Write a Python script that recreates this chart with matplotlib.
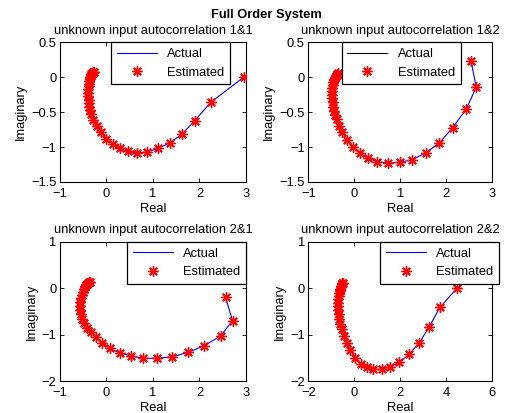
import matplotlib
matplotlib.use("Agg")
import matplotlib.pyplot as plt

plt.rcParams['font.family'] = ['Liberation Sans', 'DejaVu Sans']

# ---- data ----
titles = ["unknown input autocorrelation 1&1", "unknown input autocorrelation 1&2",
          "unknown input autocorrelation 2&1", "unknown input autocorrelation 2&2"]

re11 = [2.95, 2.24, 1.90, 1.63, 1.36, 1.11, 0.87, 0.65, 0.46, 0.28, 0.13, -0.005, -0.12, -0.21,
        -0.28, -0.33, -0.355, -0.37, -0.38, -0.385, -0.39, -0.39, -0.388, -0.385, -0.378, -0.37,
        -0.36, -0.35, -0.34, -0.325, -0.31, -0.30, -0.29, -0.28, -0.27]
im11 = [0.0, -0.36, -0.62, -0.81, -0.94, -1.02, -1.07, -1.085, -1.06, -1.02, -0.96, -0.88, -0.79, -0.70,
        -0.61, -0.53, -0.47, -0.42, -0.37, -0.32, -0.27, -0.22, -0.17, -0.13, -0.09, -0.05,
        -0.02, 0.005, 0.025, 0.04, 0.055, 0.065, 0.072, 0.078, 0.08]

re12 = [2.54, 2.65, 2.43, 2.14, 1.85, 1.56, 1.26, 0.99, 0.73, 0.50, 0.30, 0.124, -0.02, -0.15,
        -0.26, -0.33, -0.38, -0.41, -0.435, -0.455, -0.47, -0.48, -0.485, -0.485, -0.48, -0.47,
        -0.455, -0.44, -0.42, -0.40, -0.385, -0.37, -0.36]
im12 = [0.23, -0.145, -0.46, -0.72, -0.94, -1.08, -1.18, -1.22, -1.23, -1.21, -1.16, -1.09, -0.995, -0.90,
        -0.79, -0.70, -0.60, -0.54, -0.48, -0.42, -0.36, -0.30, -0.25, -0.20, -0.15, -0.11,
        -0.07, -0.04, -0.01, 0.015, 0.03, 0.045, 0.056]

re21 = [2.56, 2.71, 2.46, 2.10, 1.76, 1.415, 1.08, 0.79, 0.53, 0.28, 0.075, -0.09, -0.23, -0.34,
        -0.43, -0.48, -0.52, -0.545, -0.56, -0.565, -0.56, -0.55, -0.535, -0.51, -0.485, -0.46,
        -0.435, -0.41, -0.39, -0.37, -0.355]
im21 = [-0.20, -0.70, -1.025, -1.24, -1.38, -1.48, -1.51, -1.51, -1.46, -1.395, -1.30, -1.175, -1.06, -0.94,
        -0.86, -0.76, -0.66, -0.56, -0.47, -0.38, -0.29, -0.21, -0.14, -0.08, -0.02, 0.02,
        0.06, 0.09, 0.11, 0.13, 0.14]

re22 = [4.47, 3.73, 3.26, 2.83, 2.39, 1.96, 1.55, 1.19, 0.83, 0.54, 0.29, 0.05, -0.17, -0.33,
        -0.45, -0.55, -0.61, -0.65, -0.675, -0.69, -0.696, -0.696, -0.69, -0.675, -0.66, -0.64,
        -0.62, -0.6, -0.575, -0.55, -0.525, -0.505]
im22 = [0.0, -0.41, -0.83, -1.175, -1.42, -1.60, -1.69, -1.75, -1.75, -1.705, -1.635, -1.495, -1.34, -1.18,
        -1.03, -0.89, -0.77, -0.66, -0.56, -0.47, -0.39, -0.31, -0.24, -0.17, -0.11, -0.06,
        -0.02, 0.02, 0.05, 0.08, 0.10, 0.116]

series = [(re11, im11), (re12, im12), (re21, im21), (re22, im22)]
xlims = [(-1, 3), (-1, 3), (-1, 3), (-2, 6)]
ylims = [(-1.5, 0.5), (-1.5, 0.5), (-2, 1), (-2, 1)]
xticks = [[-1, 0, 1, 2, 3], [-1, 0, 1, 2, 3], [-1, 0, 1, 2, 3], [-2, 0, 2, 4, 6]]
yticks = [[-1.5, -1, -0.5, 0, 0.5], [-1.5, -1, -0.5, 0, 0.5], [-2, -1, 0, 1], [-2, -1, 0, 1]]
legend_anchor = [(0.914, 1.0), (0.828, 1.0), (1.0, 1.0), (1.038, 1.0)]

W, H = 506, 413
fig = plt.figure(figsize=(W / 100, H / 100), dpi=100)
rects = [(60, 42.3, 246, 182), (308.3, 42.3, 492.3, 182),
         (60, 241.7, 246, 381), (308.3, 241.7, 492.3, 381)]
fs = 9.3

def fmt(v):
    s = ('%g' % v)
    return s.replace('-', '\u2212')

for i, (l, t, r, b) in enumerate(rects):
    ax = fig.add_axes([l / W, 1 - b / H, (r - l) / W, (b - t) / H])
    re, im = series[i]
    ax.plot(re, im, color='blue', lw=0.8, label='Actual', zorder=2)
    ax.plot(re, im, ls='none', marker=(8, 2, 0), color='red', ms=7.5, mew=1.0,
            label='Estimated', zorder=3)
    ax.set_xlim(*xlims[i])
    ax.set_ylim(*ylims[i])
    ax.set_xticks(xticks[i])
    ax.set_yticks(yticks[i])
    ax.set_xticklabels([fmt(v) for v in xticks[i]])
    ax.set_yticklabels([fmt(v) for v in yticks[i]])
    ax.tick_params(direction='in', length=3, width=0.6, labelsize=fs, top=True, right=True)
    ax.tick_params(axis='x', pad=4)
    ax.tick_params(axis='y', pad=2.5)
    for sp in ax.spines.values():
        sp.set_linewidth(0.8)
    ax.set_xlabel('Real', fontsize=fs, labelpad=2.5)
    ax.set_ylabel('Imaginary', fontsize=fs, labelpad=3)
    ax.set_title(titles[i], fontsize=fs, pad=6)
    leg = ax.legend(loc='upper right', bbox_to_anchor=legend_anchor[i], fontsize=fs,
                    frameon=True, fancybox=False, framealpha=1, edgecolor='black',
                    handlelength=3.1, borderpad=0.45, labelspacing=0.5, handletextpad=0.8,
                    borderaxespad=0.0)
    leg.get_frame().set_linewidth(0.9)
    if i == 1:
        leg.get_lines()[0].set_color('black')

fig.text(266 / W, 1 - 15 / H, 'Full Order System', ha='center', va='center',
         fontsize=fs, fontweight='bold')

fig.savefig('out.png', dpi=100)
